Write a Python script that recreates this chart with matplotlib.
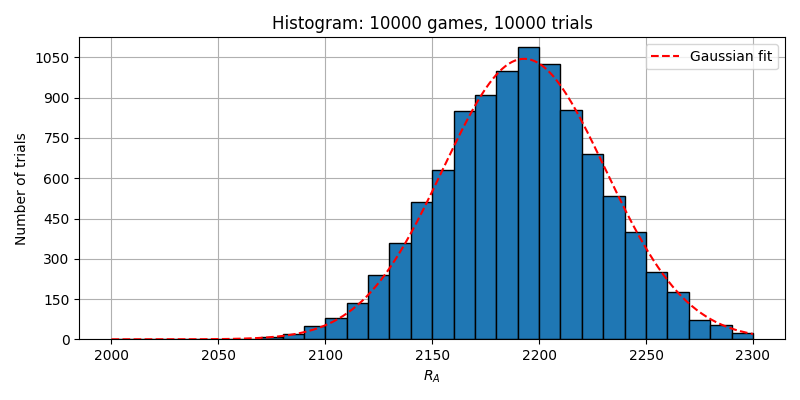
import numpy as np
import matplotlib.pyplot as plt

bin_edges = np.arange(2000, 2301, 10)
counts = [0, 0, 0, 0, 0, 0, 3, 8, 20, 48, 80, 135, 240, 357, 512, 630,
          850, 910, 1000, 1090, 1025, 855, 690, 535, 400, 250, 175, 72, 52, 22]
fit_amp, fit_mu, fit_sigma = 1045, 2193, 38

fig, ax = plt.subplots(figsize=(8, 4), dpi=100)
ax.bar(bin_edges[:-1], counts, width=10, align='edge', color='#1f77b4',
       edgecolor='black', zorder=2)
x = np.linspace(2000, 2300, 400)
ax.plot(x, fit_amp * np.exp(-(x - fit_mu) ** 2 / (2 * fit_sigma ** 2)),
        'r--', label='Gaussian fit', zorder=3)
ax.set_yticks(np.arange(0, 1051, 150))
ax.set_ylim(0, 1125)
ax.set_xlim(1985, 2315)
ax.grid(True, zorder=0)
ax.set_axisbelow(True)
ax.set_title('Histogram: 10000 games, 10000 trials')
ax.set_xlabel('$R_A$')
ax.set_ylabel('Number of trials')
ax.legend(loc='upper right')
plt.tight_layout()
plt.savefig('out.png')
